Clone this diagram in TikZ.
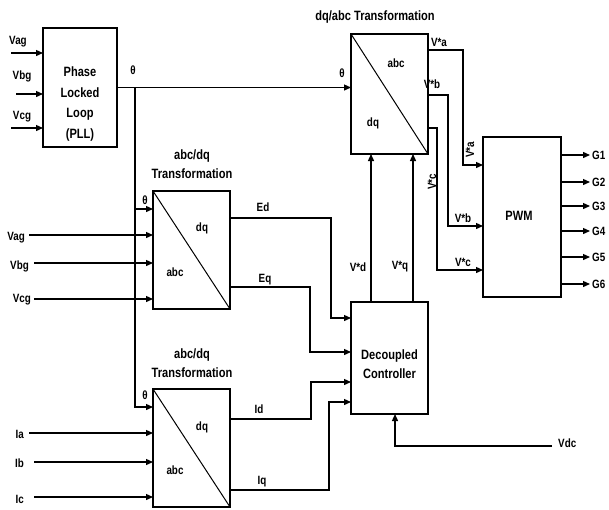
\documentclass[tikz,border=0pt]{standalone}
\usepackage{fontspec}
\setmainfont{Liberation Sans}[FakeStretch=0.82]
\usetikzlibrary{arrows.meta,calc}
\tikzset{
  blk/.style={draw, line width=1.3pt, inner sep=0pt, outer sep=0pt},
  ln/.style={line width=1.3pt},
  diag/.style={line width=1pt},
  arr/.style={ln, -{Triangle[length=7pt,width=6pt]}},
  lbl/.style={font=\fontsize{12}{13}\selectfont\bfseries, inner sep=0pt},
  big/.style={font=\fontsize{13.5}{19}\selectfont\bfseries, inner sep=0pt, align=center},
  plltxt/.style={font=\fontsize{13.5}{20.7}\selectfont\bfseries, inner sep=0pt, align=center},
}
\begin{document}
\begin{tikzpicture}[x=1pt,y=-1pt]
\useasboundingbox (0,0) rectangle (609,509);

% blocks
\node[blk, minimum width=74pt, minimum height=119pt] (pll) at (80,87.5) {};
\node[blk, minimum width=77pt, minimum height=120pt] (dqabc) at (389.5,94) {};
\node[blk, minimum width=77pt, minimum height=118pt] (abcdqA) at (191.5,250) {};
\node[blk, minimum width=77pt, minimum height=118pt] (abcdqB) at (191.5,448) {};
\node[blk, minimum width=77pt, minimum height=112pt] (dec) at (389.5,358) {};
\node[blk, minimum width=78pt, minimum height=160pt] (pwm) at (522,217) {};

\draw[diag] (dqabc.north west) -- (dqabc.south east);
\draw[diag] (abcdqA.north west) -- (abcdqA.south east);
\draw[diag] (abcdqB.north west) -- (abcdqB.south east);

% block texts
\node[plltxt] (plltext) at (80,104) {Phase\\Locked\\Loop\\(PLL)};
\node[big] (dectext) at (389.5,364) {Decoupled\\Controller};
\node[big] (pwmtext) at (519,216) {PWM};
\node[big] (t1) at (375,17) {dq/abc Transformation};
\node[big] (t2) at (192,164.5) {abc/dq\\Transformation};
\node[big] (t3) at (192,363) {abc/dq\\Transformation};
\node[lbl] (dqA) at (202,228) {dq};
\node[lbl] (abcA) at (175,272) {abc};
\node[lbl] (dqB) at (202,427) {dq};
\node[lbl] (abcB) at (175,470) {abc};
\node[lbl] (abcT) at (396,63) {abc};
\node[lbl] (dqT) at (373,123) {dq};

% PLL inputs
\coordinate (pa) at (11,53);
\coordinate (pb) at (16,94);
\coordinate (pc) at (11,128);
\draw[arr] (pa) -- (pa -| pll.west);
\draw[arr] (pb) -- (pb -| pll.west);
\draw[arr] (pc) -- (pc -| pll.west);
\node[lbl] (lpa) at (18,42) {Vag};
\node[lbl] (lpb) at (22,76) {Vbg};
\node[lbl] (lpc) at (22,117) {Vcg};

% theta
\draw[arr] (pll.east) -- (pll.east -| dqabc.west);
\coordinate (br) at ($(pll.east)+(18,0)$);
\draw[arr] (br) |- ($(abcdqA.north west)+(0,18)$);
\draw[arr] (br) |- ($(abcdqB.north west)+(0,18)$);
\node[lbl] (th1) at (133,70) {θ};
\node[lbl] (th2) at (342,73) {θ};
\node[lbl] (th3) at (145,200) {θ};
\node[lbl] (th4) at (145,395) {θ};

% abc/dq A inputs
\coordinate (va) at (29,235);
\coordinate (vb) at (34,263);
\coordinate (vc) at (34,299);
\draw[arr] (va) -- (va -| abcdqA.west);
\draw[arr] (vb) -- (vb -| abcdqA.west);
\draw[arr] (vc) -- (vc -| abcdqA.west);
\node[lbl,anchor=east] (lva) at (25,238) {Vag};
\node[lbl,anchor=east] (lvb) at (29,266) {Vbg};
\node[lbl,anchor=east] (lvc) at (31,300) {Vcg};

% abc/dq B inputs
\coordinate (ia) at (29,433);
\coordinate (ib) at (34,462);
\coordinate (ic) at (34,497);
\draw[arr] (ia) -- (ia -| abcdqB.west);
\draw[arr] (ib) -- (ib -| abcdqB.west);
\draw[arr] (ic) -- (ic -| abcdqB.west);
\node[lbl,anchor=east] (lia) at (24,434) {Ia};
\node[lbl,anchor=east] (lib) at (24,463) {Ib};
\node[lbl,anchor=east] (lic) at (24,499) {Ic};

% outputs to decoupled controller
\draw[arr] ($(abcdqA.north east)+(0,27)$) -- ++(101,0) |- ($(dec.north west)+(0,16)$);
\draw[arr] ($(abcdqA.north east)+(0,96)$) -- ++(80,0) |- ($(dec.north west)+(0,50)$);
\draw[arr] ($(abcdqB.north east)+(0,30)$) -- ++(81,0) |- ($(dec.north west)+(0,80)$);
\draw[arr] ($(abcdqB.north east)+(0,101)$) -- ++(99,0) |- ($(dec.north west)+(0,100)$);
\node[lbl] (led) at (263,207) {Ed};
\node[lbl] (leq) at (265,280) {Eq};
\node[lbl] (lid) at (259,409) {Id};
\node[lbl] (liq) at (262,482) {Iq};

% Vdc
\coordinate (vdc) at (552,446);
\draw[arr] (vdc) -| ($(dec.south west)+(44,0)$);
\node[lbl,anchor=west] (lvdc) at (558,443) {Vdc};

% V*d, V*q
\draw[arr] ($(dec.north west)+(20,0)$) -- ($(dqabc.south west)+(20,0)$);
\draw[arr] ($(dec.north west)+(62,0)$) -- ($(dqabc.south west)+(62,0)$);
\node[lbl] (lvd) at (358,267) {V*d};
\node[lbl] (lvq) at (400,267) {V*q};

% dq/abc outputs to PWM
\draw[arr] ($(dqabc.north east)+(0,16)$) -- ++(35,0) |- ($(pwm.north west)+(0,28)$);
\draw[arr] ($(dqabc.north east)+(0,61)$) -- ++(20,0) |- ($(pwm.north west)+(0,89)$);
\draw[arr] ($(dqabc.north east)+(0,94)$) -- ++(9,0) |- ($(pwm.north west)+(0,133)$);
\node[lbl] (lsa) at (439,42) {V*a};
\node[lbl] (lsb) at (432,84) {V*b};
\node[lbl,rotate=90] (lsc) at (432,182) {V*c};
\node[lbl,rotate=90] (lsa2) at (470,150) {V*a};
\node[lbl] (lsb2) at (463,218) {V*b};
\node[lbl] (lsc2) at (463,262) {V*c};

% PWM outputs
\foreach \dy/\g in {18/1,45/2,69/3,94/4,120/5,147/6} {
  \coordinate (g\g) at ($(pwm.north east)+(0,\dy)$);
  \draw[arr] (g\g) -- ++(29,0) coordinate (ge\g);
  \node[lbl,anchor=west] (lg\g) at ($(ge\g)+(2,0)$) {G\g};
}
\end{tikzpicture}
\end{document}
